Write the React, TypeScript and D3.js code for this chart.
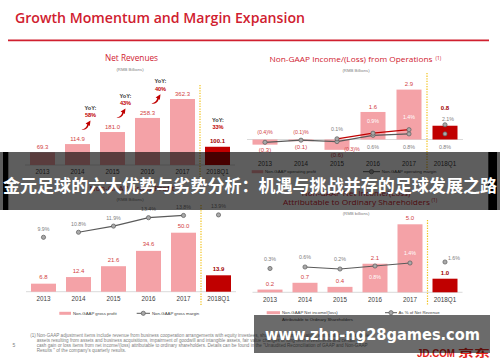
import React from "react";
import * as d3 from "d3";

// ---------- data ----------
const years = ["2013", "2014", "2015", "2016", "2017", "2018Q1"];
const netRevenues = [69.3, 114.9, 181.0, 258.3, 362.3, 100.1];
const revenueYoY = ["", "58%", "43%", "40%", "", "33%"];
const opIncome = [-0.3, -0.1, -0.6, 1.6, 2.9, 0.8];
const opMarginGray = [-0.4, -0.1, -0.3, 0.6, 0.8, 0.8];
const opMarginRed: (number | null)[] = [null, null, 0.1, 0.9, 1.4, 2.1];
const grossProfit = [6.8, 12.4, 21.6, 34.6, 50.0, 13.9];
const grossMargin = [9.9, 10.8, 11.9, 13.4, 13.8, 13.9];
const netIncome = [0.2, 0.7, 0.4, 2.1, 5.0, 1.0];
const netMargin = [0.3, 0.6, 0.2, 0.8, 1.4, 1.6];
const footnoteLines = [
  "Non-GAAP adjustment items include revenue from business cooperation arrangements with equity investees, share-based compensation, amortization of intangible",
  "assets resulting from assets and business acquisitions, impairment of goodwill and intangible assets, fair value changes of long-term investments and certain non-",
  "cash gain or loss items from net income/(loss) attributable to ordinary shareholders. Details can be found in the \"Unaudited Reconciliation of GAAP and Non-GAAP",
  "Results \" of the company's quarterly results.",
];
const bannerText = "金元足球的六大优势与劣势分析：机遇与挑战并存的足球发展之路";
const watermarkText = "www.zhn-ng28games.com";

// ---------- styles ----------
const FONT = "'Liberation Sans', Arial, sans-serif";
const TFONT = "'Open Sans', 'Liberation Sans', sans-serif";
const PINK = "#f4a2a7";
const DARK = "#c00000";
const RED_TXT = "#d2423f";
const TITLE_RED = "#d0202f";
const GRAY_TXT = "#808080";
const LINE_GRAY = "#5a5a5a";
const AXIS = "#d0d0d0";
const YELLOW = "#f2c21b";

const fmtVal = (v: number) => (v < 0 ? `(${Math.abs(v).toFixed(1)})` : v.toFixed(1));
const fmtPct = (v: number) => (v < 0 ? `(${Math.abs(v).toFixed(1)})%` : `${v.toFixed(1)}%`);

function arrowPath(cx: number, cy: number) {
  const p = (x: number, y: number) => `${cx + x},${cy + y}`;
  return `M${p(-5, 4.5)} C${p(-2, 4)} ${p(0, 2.5)} ${p(0.8, -0.6)} L${p(-0.9, -1.5)} L${p(4, -4.6)} L${p(3.3, 0.9)} L${p(2.2, 0.2)} C${p(1.2, 3.6)} ${p(-1.5, 5.3)} ${p(-5, 4.5)} Z`;
}

function Marker({ x, y }: { x: number; y: number }) {
  return <circle cx={x} cy={y} r={2.1} fill="#a9a9a9" stroke={LINE_GRAY} strokeWidth={0.7} />;
}

function Txt(props: any) {
  const { children, ...rest } = props;
  return (
    <text fontFamily={FONT} textAnchor="middle" {...rest}>
      {children}
    </text>
  );
}

export default function App() {
  // ---- scales ----
  const xTL = d3.scaleBand<string>().domain(years).range([25, 235]).paddingInner(2 / 7).paddingOuter(1 / 7);
  const yTL = d3.scaleLinear().domain([0, 362.3]).range([165, 99]);

  const xTR = d3.scaleBand<string>().domain(years).range([247, 463]).paddingInner(11 / 36).paddingOuter(5.5 / 36);
  const yTR = d3.scaleLinear().domain([0, 2.9]).range([139.5, 89.6]);
  const mTR = d3.scaleLinear().domain([0, 2.1]).range([139.5, 124.8]);

  const xBL = d3.scaleBand<string>().domain(years).range([26, 236]).paddingInner(2 / 7).paddingOuter(1 / 7);
  const yBL = d3.scaleLinear().domain([0, 50]).range([291.7, 232.7]);
  const mBL = d3.scaleLinear().domain([9.9, 13.9]).range([237.3, 214.9]);

  const xBR = d3.scaleBand<string>().domain(years).range([252.5, 462.5]).paddingInner(2 / 7).paddingOuter(1 / 7);
  const yBR = d3.scaleLinear().domain([0, 5]).range([292.3, 224.3]);
  const mBR = d3.scaleLinear().domain([0, 1.6]).range([270, 262]);

  const cx = (s: d3.ScaleBand<string>, y: string) => (s(y) as number) + s.bandwidth() / 2;

  const mkLine = (xs: d3.ScaleBand<string>, ys: d3.ScaleLinear<number, number>, from: number, to: number) =>
    d3
      .line<number | null>()
      .defined((d, i) => d !== null && i >= from && i <= to)
      .x((_, i) => cx(xs, years[i]))
      .y((d) => ys(d as number));

  const grayTR = mkLine(xTR, mTR, 0, 4)(opMarginGray);
  const redTR = mkLine(xTR, mTR, 2, 4)(opMarginRed);
  const lineBL = mkLine(xBL, mBL, 1, 4)(grossMargin);
  const lineBR = mkLine(xBR, mBR, 1, 4)(netMargin);

  const lastIdx = years.length - 1;
  const barColor = (i: number) => (i === lastIdx ? DARK : PINK);
  const valColor = (i: number) => (i === lastIdx ? "#a00000" : RED_TXT);
  const valWeight = (i: number) => (i === lastIdx ? 700 : 400);

  const dotted = (x: number, y1: number, y2: number) => (
    <line x1={x} x2={x} y1={y1} y2={y2} stroke={YELLOW} strokeWidth={1.2} strokeDasharray="1.3 1.3" />
  );

  return (
    <svg
      width={500}
      height={362}
      viewBox="0 0 500 362"
      style={{ position: "fixed", left: 0, top: 0, background: "#fff" }}
    >
      <rect x={0} y={0} width={500} height={362} fill="#fff" />

      {/* main title */}
      <text x={15} y={22.5} fontFamily={TFONT} fontWeight={600} fontSize={15} fill={TITLE_RED} textLength={290} lengthAdjust="spacingAndGlyphs">
        Growth Momentum and Margin Expansion
      </text>
      <line x1={8} x2={489} y1={40.3} y2={40.3} stroke={TITLE_RED} strokeWidth={1.8} />

      {/* ================= TOP LEFT: Net Revenues ================= */}
      <text x={131.5} y={61} fontFamily={TFONT} fontSize={8.5} fill={TITLE_RED} textAnchor="middle" textLength={53} lengthAdjust="spacingAndGlyphs">
        Net Revenues
      </text>
      <Txt x={130} y={70.5} fontSize={4.3} fill={GRAY_TXT}>(RMB Billions)</Txt>
      {dotted((xTL("2017") as number) + xTL.bandwidth() + 5, 85, 178)}
      <line x1={25} x2={235} y1={yTL(0)} y2={yTL(0)} stroke={AXIS} strokeWidth={0.8} />
      {netRevenues.map((v, i) => (
        <g key={"tl" + i}>
          <rect x={xTL(years[i])} y={yTL(v)} width={xTL.bandwidth()} height={yTL(0) - yTL(v)} fill={barColor(i)} />
          <Txt x={cx(xTL, years[i])} y={yTL(v) - 3.3} fontSize={6} fill={valColor(i)} fontWeight={valWeight(i)}>
            {v.toFixed(1)}
          </Txt>
          <Txt x={cx(xTL, years[i])} y={174.3} fontSize={6.3} fill="#404040">{years[i]}</Txt>
        </g>
      ))}
      {revenueYoY.map((t, i) => {
        if (!t) return null;
        const last = i === lastIdx;
        const x = cx(xTL, years[i]) + (last ? 0.5 : 13);
        const top = yTL(netRevenues[i]);
        const yY = last ? top - 25 : top - 34.5;
        return (
          <g key={"yoy" + i}>
            <Txt x={x} y={yY} fontSize={5.6} fontWeight={700} fill="#333">YoY:</Txt>
            <Txt x={x} y={yY + 7.5} fontSize={5.6} fontWeight={700} fill={DARK}>{t}</Txt>
            {!last && <path d={arrowPath(cx(xTL, years[i]) + 9, top - 19)} fill={DARK} />}
          </g>
        );
      })}

      {/* ================= TOP RIGHT: Non-GAAP Income from Operations ================= */}
      <text x={269.5} y={62} fontFamily={TFONT} fontSize={8} fill={TITLE_RED} textLength={163} lengthAdjust="spacingAndGlyphs">
        Non-GAAP Income/(Loss) from Operations
      </text>
      <text x={435.5} y={59.5} fontFamily={TFONT} fontSize={4.8} fill={TITLE_RED}>(1)</text>
      <Txt x={356} y={71.8} fontSize={4.3} fill={GRAY_TXT}>(RMB Billions)</Txt>
      {dotted((xTR("2017") as number) + xTR.bandwidth() + 5.5, 73, 170)}
      <line x1={247} x2={463} y1={yTR(0)} y2={yTR(0)} stroke={AXIS} strokeWidth={0.8} />
      {opIncome.map((v, i) => (
        <g key={"tr" + i}>
          <rect
            x={xTR(years[i])}
            y={Math.min(yTR(0), yTR(v))}
            width={xTR.bandwidth()}
            height={Math.abs(yTR(v) - yTR(0))}
            fill={barColor(i)}
          />
          <Txt
            x={cx(xTR, years[i])}
            y={v >= 0 ? yTR(v) - (i === lastIdx ? 16 : 3.3) : yTR(v) + 7.5}
            fontSize={6}
            fill={valColor(i)}
            fontWeight={valWeight(i)}
          >
            {fmtVal(v)}
          </Txt>
          <Txt x={cx(xTR, years[i])} y={166} fontSize={6.3} fill="#404040">{years[i]}</Txt>
        </g>
      ))}
      <path d={grayTR || ""} fill="none" stroke={LINE_GRAY} strokeWidth={1.2} />
      <path d={redTR || ""} fill="none" stroke={DARK} strokeWidth={1.3} />
      {opMarginGray.map((v, i) => {
        const x = cx(xTR, years[i]);
        let lx = x, ly = yTR(0) + 9.2, fill = GRAY_TXT;
        if (v < 0) {
          fill = RED_TXT;
          ly = yTR(0) - 6;
          if (i === 2) { lx = x + 15; ly = yTR(0) + 11.8; }
        }
        return (
          <g key={"trg" + i}>
            <Marker x={x} y={mTR(v)} />
            <Txt x={lx} y={ly} fontSize={5.3} fill={fill}>{fmtPct(v)}</Txt>
          </g>
        );
      })}
      {opMarginRed.map((v, i) => {
        if (v === null) return null;
        const x = cx(xTR, years[i]);
        const last = i === lastIdx;
        const inBar = !last && v > 0.5;
        return (
          <g key={"trr" + i}>
            <Marker x={x} y={mTR(v)} />
            <Txt
              x={last ? x + 3 : x}
              y={last ? mTR(v) - 3.8 : inBar ? mTR(v) - 10.5 : mTR(v) - 7.5}
              fontSize={5.3}
              fill={inBar ? "#fff" : GRAY_TXT}
            >
              {fmtPct(v)}
            </Txt>
          </g>
        );
      })}
      {/* legend TR */}
      <rect x={251.7} y={170.2} width={11.5} height={3} fill={PINK} />
      <text x={265} y={173.2} fontFamily={FONT} fontSize={4.3} fill="#404040">Non-GAAP operating profit</text>
      <line x1={363} x2={380} y1={171.7} y2={171.7} stroke={LINE_GRAY} strokeWidth={1} />
      <Marker x={371.5} y={171.7} />
      <text x={381.7} y={173.2} fontFamily={FONT} fontSize={4.3} fill="#404040">Non-GAAP operating margin</text>

      {/* ================= BOTTOM LEFT: Gross Profit ================= */}
      <text x={132} y={191} fontFamily={TFONT} fontSize={8} fill={TITLE_RED} textAnchor="middle">
        Non-GAAP Gross Profit
      </text>
      <Txt x={130} y={200.8} fontSize={4.3} fill={GRAY_TXT}>(RMB Billions)</Txt>
      {dotted((xBL("2017") as number) + xBL.bandwidth() + 5, 205, 305)}
      <line x1={26} x2={236} y1={yBL(0)} y2={yBL(0)} stroke={AXIS} strokeWidth={0.8} />
      {grossProfit.map((v, i) => (
        <g key={"bl" + i}>
          <rect x={xBL(years[i])} y={yBL(v)} width={xBL.bandwidth()} height={yBL(0) - yBL(v)} fill={barColor(i)} />
          <Txt x={cx(xBL, years[i])} y={yBL(v) - 4.5} fontSize={6} fill={valColor(i)} fontWeight={valWeight(i)}>
            {v.toFixed(1)}
          </Txt>
          <Txt x={cx(xBL, years[i])} y={300.6} fontSize={6.3} fill="#404040">{years[i]}</Txt>
        </g>
      ))}
      <path d={lineBL || ""} fill="none" stroke={LINE_GRAY} strokeWidth={1.2} />
      {grossMargin.map((v, i) => (
        <g key={"blm" + i}>
          <Marker x={cx(xBL, years[i])} y={mBL(v)} />
          <Txt x={cx(xBL, years[i])} y={mBL(v) - 6.5} fontSize={5.3} fill={GRAY_TXT}>{fmtPct(v)}</Txt>
        </g>
      ))}
      <rect x={59.3} y={311.8} width={11.7} height={3} fill={PINK} />
      <text x={73} y={314.8} fontFamily={FONT} fontSize={4.3} fill="#404040">Non-GAAP gross profit</text>
      <line x1={136.7} x2={150} y1={313.3} y2={313.3} stroke={LINE_GRAY} strokeWidth={1} />
      <Marker x={143.3} y={313.3} />
      <text x={152} y={314.8} fontFamily={FONT} fontSize={4.3} fill="#404040">Non-GAAP gross margin</text>

      {/* ================= BOTTOM RIGHT: Net Income ================= */}
      <text x={356} y={196} fontFamily={TFONT} fontSize={8} fill={TITLE_RED} textAnchor="middle">
        Non-GAAP Net Income/(Loss)
      </text>
      <text x={283} y={205} fontFamily={TFONT} fontSize={8} fill={TITLE_RED} textLength={147} lengthAdjust="spacingAndGlyphs">
        Attributable to Ordinary Shareholders
      </text>
      <text x={431.5} y={202} fontFamily={TFONT} fontSize={4.8} fill={TITLE_RED}>(1)</text>
      <Txt x={356} y={214.5} fontSize={4.3} fill={GRAY_TXT}>(RMB billions)</Txt>
      {dotted((xBR("2017") as number) + xBR.bandwidth() + 5, 220, 305)}
      <line x1={252.5} x2={462.5} y1={yBR(0)} y2={yBR(0)} stroke={AXIS} strokeWidth={0.8} />
      {netIncome.map((v, i) => (
        <g key={"br" + i}>
          <rect x={xBR(years[i])} y={yBR(v)} width={xBR.bandwidth()} height={yBR(0) - yBR(v)} fill={barColor(i)} />
          <Txt x={cx(xBR, years[i])} y={yBR(v) - 4} fontSize={6} fill={valColor(i)} fontWeight={valWeight(i)}>
            {v.toFixed(1)}
          </Txt>
          <Txt x={cx(xBR, years[i])} y={301.5} fontSize={6.3} fill="#404040">{years[i]}</Txt>
        </g>
      ))}
      <path d={lineBR || ""} fill="none" stroke={LINE_GRAY} strokeWidth={1.2} />
      {netMargin.map((v, i) => {
        const x = cx(xBR, years[i]);
        const y = mBR(v);
        const last = i === lastIdx;
        const barTop = yBR(netIncome[i]);
        let lx = x, ly = y - 7.7, fill = GRAY_TXT;
        if (last) { lx = x + 9; ly = y - 2; }
        else if (barTop <= y - 12) { fill = "#fff"; }
        else if (barTop < y + 4) { fill = "#fff"; ly = y + 13; }
        return (
          <g key={"brm" + i}>
            <Marker x={x} y={y} />
            <Txt x={lx} y={ly} fontSize={5.3} fill={fill}>{fmtPct(v)}</Txt>
          </g>
        );
      })}
      <rect x={266.7} y={311.2} width={13.3} height={3} fill={PINK} />
      <text x={282} y={314.2} fontFamily={FONT} fontSize={4.3} fill="#404040">Non-GAAP Net income/(loss)</text>
      <text x={282} y={320.8} fontFamily={FONT} fontSize={4.3} fill="#404040">Attributable to Ordinary Shareholders</text>
      <line x1={385} x2={397} y1={312.7} y2={312.7} stroke={LINE_GRAY} strokeWidth={1} />
      <Marker x={391} y={312.7} />
      <text x={398.5} y={314.2} fontFamily={FONT} fontSize={4.3} fill="#404040">As % of Net Revenue</text>

      {/* footnote */}
      <text x={33} y={336.5} fontFamily={FONT} fontSize={4.6} fill={GRAY_TXT} textAnchor="middle">(1)</text>
      {footnoteLines.map((t, i) => (
        <text key={"fn" + i} x={36.7} y={336.5 + i * 5.1} fontFamily={FONT} fontSize={4.6} fill={GRAY_TXT}>
          {t}
        </text>
      ))}
      <text x={14} y={347} fontFamily={FONT} fontSize={5} fill={GRAY_TXT} textAnchor="middle">5</text>

      {/* JD logo */}
      <text x={417} y={357} fontFamily={FONT} fontSize={10} fontWeight={700} fill="#e1251b" textLength={38} lengthAdjust="spacingAndGlyphs">
        JD.COM
      </text>
      <text x={458} y={357} fontFamily="'Noto Sans CJK SC', sans-serif" fontSize={10} fontWeight={700} fill="#e1251b" textLength={32} lengthAdjust="spacingAndGlyphs">
        京东
      </text>

      {/* overlay banner */}
      <rect x={0} y={152} width={500} height={58} fill="rgba(0,0,0,0.63)" />
      <rect x={3} y={152} width={5.3} height={58} fill="#000" />
      <rect x={488.3} y={152} width={8.7} height={58} fill="#000" />
      <text
        x={3}
        y={191.5}
        fontFamily="'Noto Sans CJK SC', sans-serif"
        fontWeight={700}
        fontSize={17}
        fill="#fff"
        textLength={494}
        lengthAdjust="spacingAndGlyphs"
      >
        {bannerText}
      </text>

      {/* watermark */}
      <rect x={254} y={315} width={236} height={38} fill="rgba(0,0,0,0.58)" />
      <text
        x={265}
        y={339.5}
        fontFamily="'DejaVu Sans', sans-serif"
        fontWeight={700}
        fontSize={15}
        fill="#fff"
        textLength={215}
        lengthAdjust="spacingAndGlyphs"
      >
        {watermarkText}
      </text>
    </svg>
  );
}
